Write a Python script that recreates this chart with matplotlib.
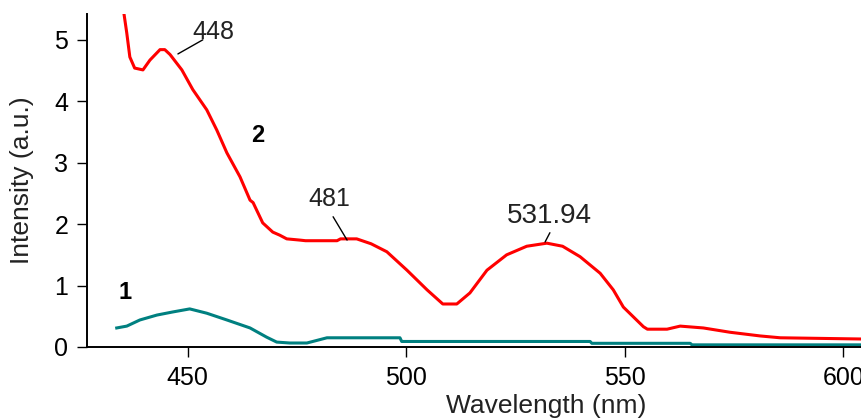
import matplotlib
matplotlib.use("Agg")
import matplotlib.pyplot as plt

plt.rcParams['font.family'] = ['Liberation Sans', 'DejaVu Sans']

# Series 2 (red)
wl_2 = [435.2, 436.1, 436.8, 437.9, 439.8, 441.4, 443.7, 444.8, 446.0, 448.7,
        451.2, 454.4, 456.7, 459.0, 462.0, 464.3, 465.0, 467.2, 469.5, 471.1,
        472.7, 475.7, 477.0, 484.2, 485.0, 488.7, 492.0, 495.6, 500.2, 504.8,
        508.4, 511.6, 514.6, 518.5, 523.0, 527.6, 532.2, 535.8, 539.8, 544.4,
        547.4, 549.7, 552.0, 554.3, 555.2, 559.7, 562.7, 568.0, 574.1, 581.0,
        585.6, 604.3]
int_2 = [5.55, 5.11, 4.72, 4.54, 4.51, 4.67, 4.84, 4.84, 4.76, 4.51,
         4.19, 3.86, 3.53, 3.16, 2.77, 2.39, 2.35, 2.02, 1.87, 1.82,
         1.76, 1.74, 1.73, 1.73, 1.76, 1.76, 1.68, 1.55, 1.25, 0.93,
         0.70, 0.70, 0.88, 1.25, 1.50, 1.64, 1.69, 1.64, 1.47, 1.20,
         0.93, 0.65, 0.49, 0.33, 0.29, 0.29, 0.34, 0.31, 0.24, 0.18,
         0.15, 0.13]

# Series 1 (teal)
wl_1 = [433.8, 436.1, 439.1, 443.0, 446.6, 450.5, 454.4, 459.0, 464.3, 468.1,
        470.4, 473.4, 477.3, 481.9, 498.6, 499.0, 542.1, 542.5, 565.0, 565.4,
        604.3]
int_1 = [0.31, 0.34, 0.44, 0.52, 0.57, 0.62, 0.55, 0.44, 0.31, 0.16,
         0.08, 0.065, 0.065, 0.15, 0.15, 0.09, 0.09, 0.06, 0.06, 0.035,
         0.035]

xticks = [450, 500, 550, 600]
yticks = [0, 1, 2, 3, 4, 5]

fig = plt.figure(figsize=(8.62, 4.20), dpi=100)
ax = fig.add_axes([87/862, 73/420, 775/862, 333/420])

ax.plot(wl_2, int_2, color='#ff0000', lw=2.2, clip_on=True)
ax.plot(wl_1, int_1, color='#008080', lw=2.2)

ax.set_xlim(427.0, 604.3)
ax.set_ylim(0, 5.42)
ax.set_xticks(xticks)
ax.set_yticks(yticks)
ax.tick_params(direction='out', length=7.5, width=1, labelsize=18, pad=6, color='black')

for s in ['top', 'right']:
    ax.spines[s].set_visible(False)
for s in ['left', 'bottom']:
    ax.spines[s].set_linewidth(1.4)

ax.set_ylabel('Intensity (a.u.)', fontsize=19, color='#222222')
ax.yaxis.set_label_coords(-0.068, 0.5)
ax.set_xlabel('Wavelength (nm)', fontsize=19, color='#222222')
ax.xaxis.set_label_coords(0.592, -0.142)

# Peak annotations
ax.annotate('', xy=(447.8, 4.77), xytext=(453.5, 5.0),
            arrowprops=dict(arrowstyle='-', lw=1, color='black', shrinkA=0, shrinkB=0))
ax.text(455.8, 5.13, '448', fontsize=18, ha='center', va='center', color='#222222')

ax.annotate('', xy=(486.5, 1.74), xytext=(483.3, 2.12),
            arrowprops=dict(arrowstyle='-', lw=1, color='black', shrinkA=0, shrinkB=0))
ax.text(482.4, 2.41, '481', fontsize=18, ha='center', va='center', color='#222222')

ax.annotate('', xy=(531.8, 1.71), xytext=(532.9, 1.86),
            arrowprops=dict(arrowstyle='-', lw=1, color='black', shrinkA=0, shrinkB=0))
ax.text(532.7, 2.13, '531.94', fontsize=20, ha='center', va='center', color='#222222')

ax.text(466.1, 3.45, '2', fontsize=17, fontweight='bold', ha='center', va='center')
ax.text(435.6, 0.88, '1', fontsize=17, fontweight='bold', ha='center', va='center')

fig.savefig('out.png', dpi=100)
